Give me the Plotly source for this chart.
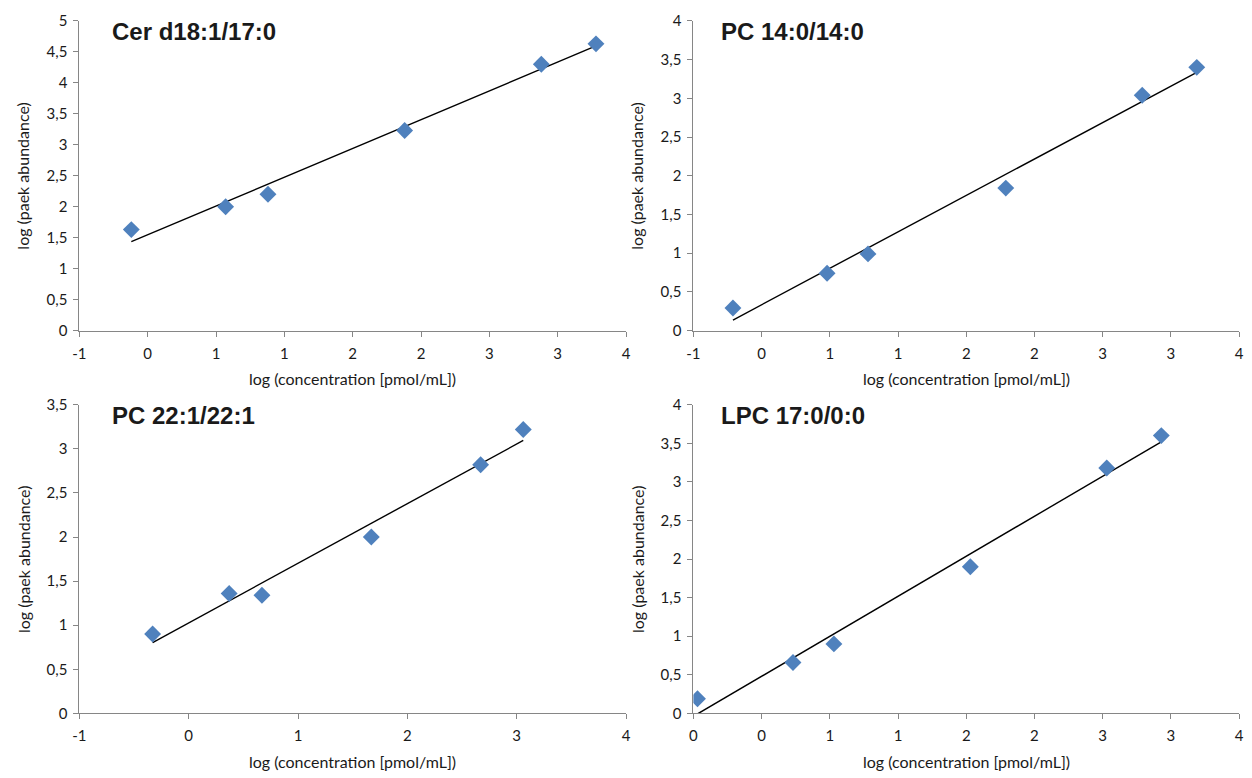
import numpy as np
import plotly.graph_objects as go

# ---- data ----
titles = ["Cer d18:1/17:0", "PC 14:0/14:0", "PC 22:1/22:1", "LPC 17:0/0:0"]

cer_x = [-0.12, 0.57, 0.88, 1.88, 2.88, 3.28]
cer_y = [1.63, 2.00, 2.20, 3.23, 4.30, 4.63]
pc14_x = [-0.21, 0.48, 0.78, 1.79, 2.79, 3.19]
pc14_y = [0.29, 0.74, 0.99, 1.84, 3.04, 3.40]
pc22_x = [-0.33, 0.37, 0.67, 1.67, 2.67, 3.06]
pc22_y = [0.90, 1.36, 1.34, 2.00, 2.82, 3.22]
lpc_x = [-0.37, 0.33, 0.63, 1.63, 2.63, 3.03]
lpc_y = [0.19, 0.66, 0.90, 1.90, 3.18, 3.60]

# x tick positions and (rounded, as in the original) labels
x_ticks_a = [-0.5, 0.0, 0.5, 1.0, 1.5, 2.0, 2.5, 3.0, 3.5]
x_text_a = ["-1", "0", "1", "1", "2", "2", "3", "3", "4"]
x_ticks_c = [-1, 0, 1, 2, 3, 4]
x_text_c = ["-1", "0", "1", "2", "3", "4"]
x_ticks_d = [-0.4, 0.1, 0.6, 1.1, 1.6, 2.1, 2.6, 3.1, 3.6]
x_text_d = ["0", "0", "1", "1", "2", "2", "3", "3", "4"]

y_ticks_5 = [0, 0.5, 1, 1.5, 2, 2.5, 3, 3.5, 4, 4.5, 5]
y_text_5 = ["0", "0,5", "1", "1,5", "2", "2,5", "3", "3,5", "4", "4,5", "5"]
y_ticks_4 = [0, 0.5, 1, 1.5, 2, 2.5, 3, 3.5, 4]
y_text_4 = ["0", "0,5", "1", "1,5", "2", "2,5", "3", "3,5", "4"]
y_ticks_35 = [0, 0.5, 1, 1.5, 2, 2.5, 3, 3.5]
y_text_35 = ["0", "0,5", "1", "1,5", "2", "2,5", "3", "3,5"]

x_title = "log (concentration [pmol/mL])"
y_title = "log (paek abundance)"

# ---- layout geometry (page has an 8px body margin) ----
OFF = 8
W, H = 1252 - OFF, 778 - OFF
def px_x(v):
    return (v - OFF) / W
def px_y(v):
    return 1 - (v - OFF) / H

panels = [
    dict(xs=cer_x, ys=cer_y, xt=x_ticks_a, xl=x_text_a, yt=y_ticks_5, yl=y_text_5,
         xr=[-0.5, 3.5], yr=[0, 5], dom_x=[73, 625], dom_y=[11, 328], tx=31),
    dict(xs=pc14_x, ys=pc14_y, xt=x_ticks_a, xl=x_text_a, yt=y_ticks_4, yl=y_text_4,
         xr=[-0.5, 3.5], yr=[0, 4], dom_x=[693, 1244], dom_y=[11, 328], tx=26),
    dict(xs=pc22_x, ys=pc22_y, xt=x_ticks_c, xl=x_text_c, yt=y_ticks_35, yl=y_text_35,
         xr=[-1, 4], yr=[0, 3.5], dom_x=[73, 625], dom_y=[404, 720], tx=31),
    dict(xs=lpc_x, ys=lpc_y, xt=x_ticks_d, xl=x_text_d, yt=y_ticks_4, yl=y_text_4,
         xr=[-0.4, 3.6], yr=[0, 4], dom_x=[693, 1244], dom_y=[404, 720], tx=26),
]

fig = go.Figure()
axis_color = "#868686"
font_fam = "Lato, Open Sans, sans-serif"
tick_font = dict(family=font_fam, size=15, color="#1a1a1a")
layout = {}
annotations = []

for i, p in enumerate(panels):
    n = "" if i == 0 else str(i + 1)
    xa, ya = "x" + n, "y" + n
    # trend line (least squares, as the spreadsheet trendline)
    k, b = np.polyfit(p["xs"], p["ys"], 1)
    lx = [min(p["xs"]), max(p["xs"])]
    ly = [k * v + b for v in lx]
    fig.add_trace(go.Scatter(x=lx, y=ly, mode="lines", line=dict(color="black", width=1.4),
                             xaxis=xa, yaxis=ya, showlegend=False, hoverinfo="skip"))
    fig.add_trace(go.Scatter(x=p["xs"], y=p["ys"], mode="markers",
                             marker=dict(symbol="diamond", size=13, color="#4F81BD"),
                             xaxis=xa, yaxis=ya, showlegend=False))
    layout["xaxis" + n] = dict(
        domain=[px_x(p["dom_x"][0]), px_x(p["dom_x"][1])], range=p["xr"], anchor=ya,
        tickvals=p["xt"], ticktext=p["xl"], showgrid=False, zeroline=False,
        showline=True, linecolor=axis_color, linewidth=1, ticks="outside",
        tickcolor=axis_color, ticklen=5, tickfont=tick_font, ticklabelstandoff=4,
        fixedrange=True)
    layout["yaxis" + n] = dict(
        domain=[px_y(p["dom_y"][1]), px_y(p["dom_y"][0])], range=p["yr"], anchor=xa,
        tickvals=p["yt"], ticktext=p["yl"], showgrid=False, zeroline=False,
        showline=True, linecolor=axis_color, linewidth=1, ticks="outside",
        tickcolor=axis_color, ticklen=5, tickfont=tick_font, ticklabelstandoff=3,
        fixedrange=True)
    # panel title
    annotations.append(dict(text="<b>" + titles[i] + "</b>", xref="paper", yref="paper",
                            x=px_x(p["dom_x"][0] + p["tx"]), y=px_y(p["dom_y"][0] + 11),
                            xanchor="left", yanchor="middle", showarrow=False,
                            font=dict(family="Liberation Sans, Arial, sans-serif", size=24, color="#1a1a1a")))
    # x axis title
    annotations.append(dict(text=x_title, xref="paper", yref="paper",
                            x=px_x((p["dom_x"][0] + p["dom_x"][1]) / 2), y=px_y(p["dom_y"][1] + 49),
                            xanchor="center", yanchor="middle", showarrow=False,
                            font=dict(family=font_fam, size=16, color="#1a1a1a")))
    # y axis title
    annotations.append(dict(text=y_title, xref="paper", yref="paper",
                            x=px_x(p["dom_x"][0] - 57), y=px_y((p["dom_y"][0] + p["dom_y"][1]) / 2),
                            xanchor="center", yanchor="middle", showarrow=False, textangle=-90,
                            font=dict(family=font_fam, size=16, color="#1a1a1a")))

fig.update_layout(width=W, height=H, margin=dict(l=0, r=0, t=0, b=0),
                  paper_bgcolor="white", plot_bgcolor="white",
                  annotations=annotations, **layout)

fig.write_html("out.html")
